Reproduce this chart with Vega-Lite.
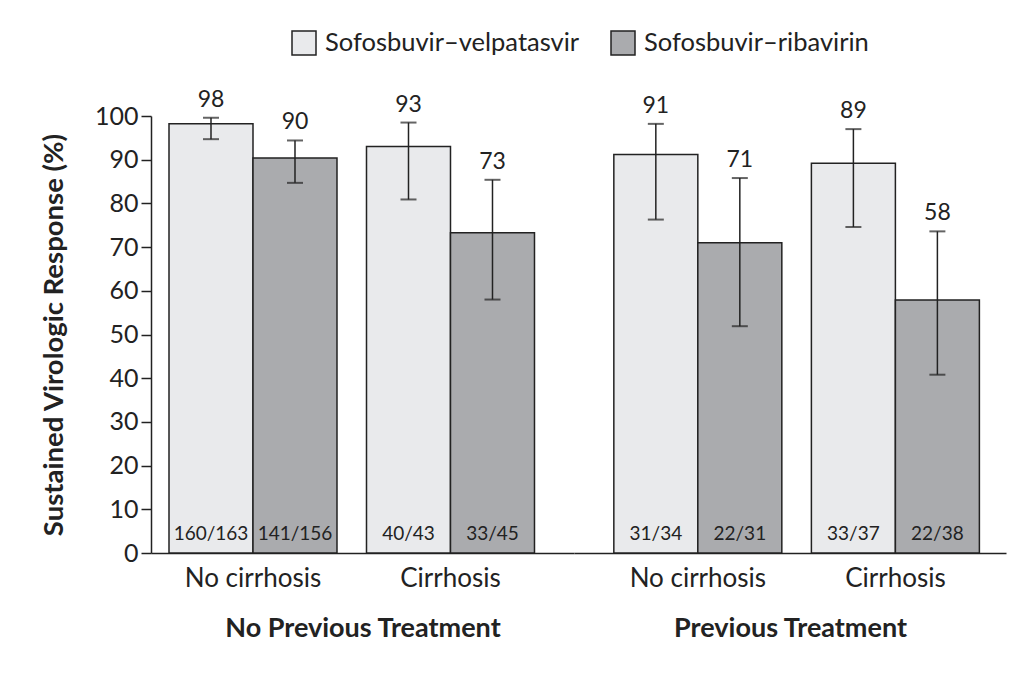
{
  "$schema": "https://vega.github.io/schema/vega-lite/v6.json",
  "background": "white",
  "padding": {"left": 40, "top": 30, "right": 5, "bottom": 5},
  "config": {
    "font": "Lato",
    "view": {"stroke": null},
    "axis": {"domainColor": "#222", "tickColor": "#222", "labelColor": "#222", "titleColor": "#222", "grid": false, "domainWidth": 1.5, "tickWidth": 1.5, "labelFont": "Lato", "titleFont": "Lato"},
    "legend": {"labelFont": "Lato", "labelLimit": 0}
  },
  "datasets": {
    "svr": [
      {"history": "No Previous Treatment", "group": "No cirrhosis", "regimen": "Sofosbuvir–velpatasvir", "pct": 98.2, "lo": 94.7, "hi": 99.6, "n": "160/163"},
      {"history": "No Previous Treatment", "group": "No cirrhosis", "regimen": "Sofosbuvir–ribavirin", "pct": 90.4, "lo": 84.7, "hi": 94.4, "n": "141/156"},
      {"history": "No Previous Treatment", "group": "Cirrhosis", "regimen": "Sofosbuvir–velpatasvir", "pct": 93.0, "lo": 80.9, "hi": 98.5, "n": "40/43"},
      {"history": "No Previous Treatment", "group": "Cirrhosis", "regimen": "Sofosbuvir–ribavirin", "pct": 73.3, "lo": 58.0, "hi": 85.4, "n": "33/45"},
      {"history": "Previous Treatment", "group": "No cirrhosis", "regimen": "Sofosbuvir–velpatasvir", "pct": 91.2, "lo": 76.3, "hi": 98.2, "n": "31/34"},
      {"history": "Previous Treatment", "group": "No cirrhosis", "regimen": "Sofosbuvir–ribavirin", "pct": 71.0, "lo": 51.9, "hi": 85.8, "n": "22/31"},
      {"history": "Previous Treatment", "group": "Cirrhosis", "regimen": "Sofosbuvir–velpatasvir", "pct": 89.2, "lo": 74.6, "hi": 97.0, "n": "33/37"},
      {"history": "Previous Treatment", "group": "Cirrhosis", "regimen": "Sofosbuvir–ribavirin", "pct": 57.9, "lo": 40.8, "hi": 73.6, "n": "22/38"}
    ]
  },
  "spacing": 0,
  "resolve": {"scale": {"color": "shared", "y": "shared"}, "legend": {"color": "shared"}},
  "hconcat": [
    {
      "width": 423,
      "height": 437,
      "data": {"name": "svr"},
      "transform": [{"filter": "datum.history === 'No Previous Treatment'"}],
      "encoding": {
        "x": {"field": "group", "type": "nominal", "sort": ["No cirrhosis", "Cirrhosis"],
          "scale": {"paddingInner": 0.1494, "paddingOuter": 0.1456, "align": 0.313},
          "axis": {"title": "No Previous Treatment", "titleFontSize": 27, "titleFontWeight": "bold", "titlePadding": 24, "labelFontSize": 26, "labelAngle": 0, "ticks": false, "labelPadding": 12}},
        "xOffset": {"field": "regimen", "type": "nominal", "sort": ["Sofosbuvir–velpatasvir", "Sofosbuvir–ribavirin"], "scale": {"paddingInner": 0, "paddingOuter": 0}}
      },
      "layer": [
        {"mark": {"type": "bar", "stroke": "#222", "strokeWidth": 1.5, "width": {"band": 1}},
          "encoding": {
            "y": {"field": "pct", "type": "quantitative", "scale": {"domain": [0, 100], "nice": false},
              "axis": {"title": "Sustained Virologic Response (%)", "titleFontSize": 27.5, "titleFontWeight": "bold", "titlePadding": 26, "labelFontSize": 25, "values": [0,10,20,30,40,50,60,70,80,90,100], "labelOverlap": false, "tickSize": 10, "labelPadding": 3}},
            "color": {"field": "regimen", "type": "nominal", "sort": ["Sofosbuvir–velpatasvir", "Sofosbuvir–ribavirin"],
              "scale": {"domain": ["Sofosbuvir–velpatasvir", "Sofosbuvir–ribavirin"], "range": ["#e9eaec", "#aaabae"]},
              "legend": {"title": null, "orient": "none", "legendX": 140, "legendY": -86, "direction": "horizontal", "symbolType": "square", "symbolSize": 576, "symbolStrokeColor": "#222", "symbolStrokeWidth": 1.5, "labelFontSize": 25.5, "labelColor": "#222", "columnPadding": 28, "labelOffset": 8, "labelLimit": 0}}
          }},
        {"mark": {"type": "rule", "color": "#222", "strokeWidth": 1.5},
          "encoding": {"y": {"field": "lo", "type": "quantitative", "axis": {"title": "Sustained Virologic Response (%)", "titleFontSize": 27.5, "titleFontWeight": "bold", "titlePadding": 26, "labelFontSize": 25, "values": [0,10,20,30,40,50,60,70,80,90,100], "labelOverlap": false, "tickSize": 10, "labelPadding": 3}}, "y2": {"field": "hi"}}},
        {"mark": {"type": "tick", "color": "#222", "thickness": 2, "size": 16},
          "encoding": {"y": {"field": "lo", "type": "quantitative", "axis": {"title": "Sustained Virologic Response (%)", "titleFontSize": 27.5, "titleFontWeight": "bold", "titlePadding": 26, "labelFontSize": 25, "values": [0,10,20,30,40,50,60,70,80,90,100], "labelOverlap": false, "tickSize": 10, "labelPadding": 3}}}},
        {"mark": {"type": "tick", "color": "#222", "thickness": 2, "size": 16},
          "encoding": {"y": {"field": "hi", "type": "quantitative", "axis": {"title": "Sustained Virologic Response (%)", "titleFontSize": 27.5, "titleFontWeight": "bold", "titlePadding": 26, "labelFontSize": 25, "values": [0,10,20,30,40,50,60,70,80,90,100], "labelOverlap": false, "tickSize": 10, "labelPadding": 3}}}},
        {"mark": {"type": "text", "fontSize": 23, "baseline": "alphabetic", "dy": -11, "color": "#222"},
          "encoding": {"y": {"field": "hi", "type": "quantitative", "axis": {"title": "Sustained Virologic Response (%)", "titleFontSize": 27.5, "titleFontWeight": "bold", "titlePadding": 26, "labelFontSize": 25, "values": [0,10,20,30,40,50,60,70,80,90,100], "labelOverlap": false, "tickSize": 10, "labelPadding": 3}}, "text": {"field": "pct", "type": "quantitative", "format": ".0f"}}},
        {"mark": {"type": "text", "fontSize": 19, "baseline": "alphabetic", "dy": -13, "color": "#222"},
          "encoding": {"y": {"datum": 0, "type": "quantitative"}, "text": {"field": "n", "type": "nominal"}}}
      ]
    },
    {
      "width": 432,
      "height": 437,
      "data": {"name": "svr"},
      "transform": [{"filter": "datum.history === 'Previous Treatment'"}],
      "encoding": {
        "x": {"field": "group", "type": "nominal", "sort": ["No cirrhosis", "Cirrhosis"],
          "scale": {"paddingInner": 0.1494, "paddingOuter": 0.168, "align": 0.6},
          "axis": {"title": "Previous Treatment", "titleFontSize": 27, "titleFontWeight": "bold", "titlePadding": 24, "labelFontSize": 26, "labelAngle": 0, "ticks": false, "labelPadding": 12}},
        "xOffset": {"field": "regimen", "type": "nominal", "sort": ["Sofosbuvir–velpatasvir", "Sofosbuvir–ribavirin"], "scale": {"paddingInner": 0, "paddingOuter": 0}}
      },
      "layer": [
        {"mark": {"type": "bar", "stroke": "#222", "strokeWidth": 1.5, "width": {"band": 1}},
          "encoding": {
            "y": {"field": "pct", "type": "quantitative", "scale": {"domain": [0, 100], "nice": false}, "axis": null},
            "color": {"field": "regimen", "type": "nominal", "sort": ["Sofosbuvir–velpatasvir", "Sofosbuvir–ribavirin"],
              "scale": {"domain": ["Sofosbuvir–velpatasvir", "Sofosbuvir–ribavirin"], "range": ["#e9eaec", "#aaabae"]}}
          }},
        {"mark": {"type": "rule", "color": "#222", "strokeWidth": 1.5},
          "encoding": {"y": {"field": "lo", "type": "quantitative", "axis": null}, "y2": {"field": "hi"}}},
        {"mark": {"type": "tick", "color": "#222", "thickness": 2, "size": 16},
          "encoding": {"y": {"field": "lo", "type": "quantitative", "axis": null}}},
        {"mark": {"type": "tick", "color": "#222", "thickness": 2, "size": 16},
          "encoding": {"y": {"field": "hi", "type": "quantitative", "axis": null}}},
        {"mark": {"type": "text", "fontSize": 23, "baseline": "alphabetic", "dy": -11, "color": "#222"},
          "encoding": {"y": {"field": "hi", "type": "quantitative", "axis": null}, "text": {"field": "pct", "type": "quantitative", "format": ".0f"}}},
        {"mark": {"type": "text", "fontSize": 19, "baseline": "alphabetic", "dy": -13, "color": "#222"},
          "encoding": {"y": {"datum": 0, "type": "quantitative", "axis": null}, "text": {"field": "n", "type": "nominal"}}}
      ]
    }
  ]
}
